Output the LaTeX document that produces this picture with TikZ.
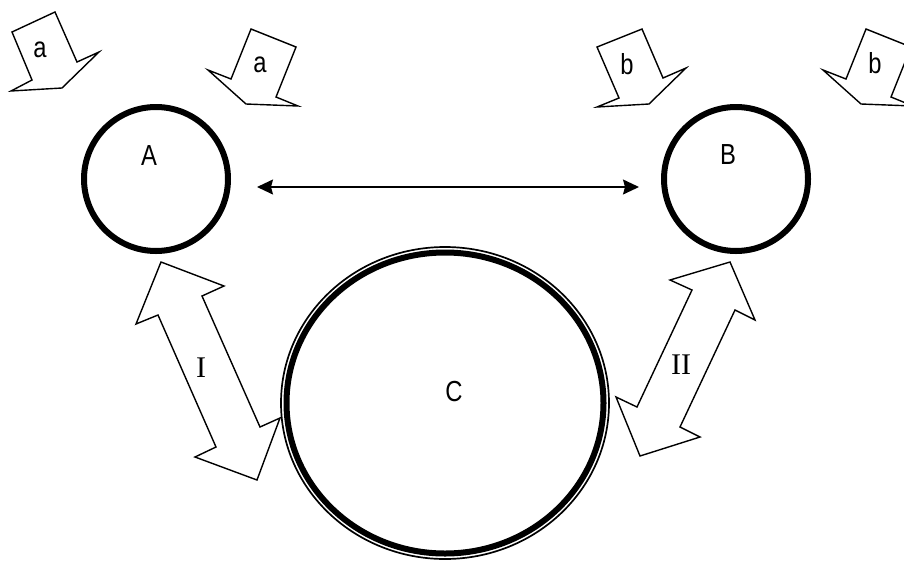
\documentclass[tikz,border=0pt]{standalone}
\usepackage{fontspec}
\setmainfont{Liberation Serif}
\newfontfamily\lblfont[FakeStretch=0.82]{Liberation Sans}
\usetikzlibrary{arrows.meta,shapes.geometric}
\begin{document}
\begin{tikzpicture}[x=1pt,y=-1pt,
  blk/.style={draw=black,line width=1.4pt,line join=miter},
  ring/.style={circle,draw=black,line width=6pt,minimum size=144pt,inner sep=0pt},
  lbl/.style={font=\lblfont\fontsize{29}{29}\selectfont,inner sep=0pt},
  roman/.style={font=\fontsize{30}{30}\selectfont,inner sep=0pt},
  link/.style={line width=1.4pt,{Stealth[length=16pt,width=15pt,inset=2pt]}-{Stealth[length=16pt,width=15pt,inset=2pt]}}]
\path[use as bounding box] (0,0) rectangle (904,563);
\clip (0,0) rectangle (904,563);

% circles
\node[ring] (A) at (156,179) {};
\node[ring] (B) at (736,179) {};
\node[ellipse,draw=black,line width=6pt,minimum width=317pt,minimum height=301pt,inner sep=0pt] (C) at (445,403) {};
\draw[line width=1.7pt] (C.center) ellipse [x radius=164, y radius=156];

% labels
\node[lbl] (lA) at (149,156) {A};
\node[lbl] (lB) at (728,155) {B};
\node[lbl] (lC) at (454,392) {C};

% double arrow between A and B
\coordinate (L) at (257,187);
\coordinate (R) at (639,187);
\draw[link] (L) -- (R);

% input block arrows
\draw[blk] (12,32) -- (55,12) -- (77,62) -- (99,52) -- (62,88) -- (11,91) -- (32,80) -- cycle;
\node[lbl] (a1) at (40,50) {a};
\draw[blk] (251,29) -- (296,47) -- (276,97) -- (298,106) -- (246,104) -- (208,70) -- (231,79) -- cycle;
\node[lbl] (a2) at (260,65) {a};
\draw[blk] (597,47) -- (642,29) -- (663,78) -- (686,68) -- (649,104) -- (597,107) -- (619,98) -- cycle;
\node[lbl] (b1) at (627,64) {b};
\draw[blk] (866,29) -- (911,47) -- (891,97) -- (913,106) -- (861,104) -- (823,70) -- (846,79) -- cycle;
\node[lbl] (b2) at (875,63) {b};

% double block arrows I and II
\draw[blk] (161,262) -- (224,286) -- (202,296) -- (260,427) -- (280,418) -- (257,480) -- (195,457) -- (216,447) -- (158,315) -- (136,324) -- cycle;
\node[roman] (I) at (201,368) {I};
\draw[blk] (730,262) -- (755,320) -- (735,310) -- (680,427) -- (700,437) -- (640,456) -- (616,397) -- (637,407) -- (692,290) -- (670,280) -- cycle;
\node[roman] (II) at (681,365) {II};
\end{tikzpicture}
\end{document}
